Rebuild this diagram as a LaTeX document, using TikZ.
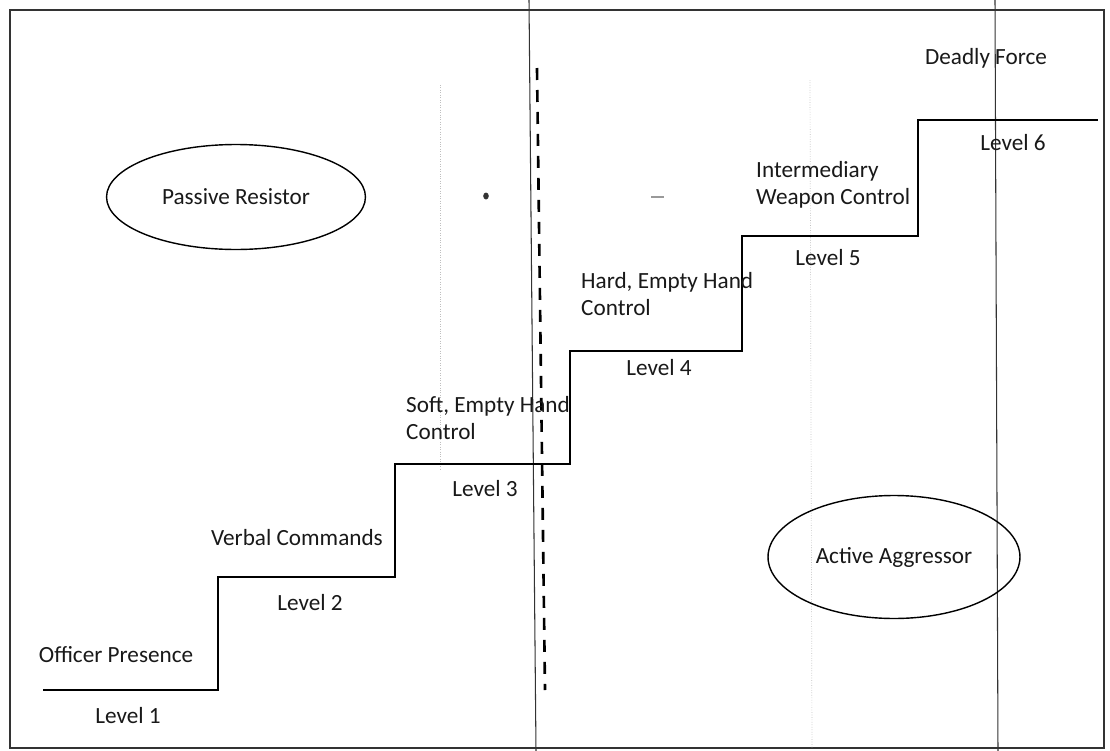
\documentclass[tikz,border=0pt]{standalone}
\usepackage{fontspec}
\setmainfont{Carlito}
\usetikzlibrary{shapes.geometric}

\begin{document}
\begin{tikzpicture}[x=0.02cm, y=-0.02cm,
  every node/.style={font=\fontsize{13.2}{15.4}\selectfont, text=black!90},
  frameline/.style={draw=black!80, line width=0.6pt},
  faintline/.style={draw=black!25, line width=0.4pt, densely dotted},
  stair/.style={draw=black, line width=0.9pt},
  divider/.style={draw=black, line width=1.5pt, dash pattern=on 0.24cm off 0.2cm},
  group/.style={ellipse, draw=black, line width=0.8pt, inner sep=0pt},
  twoline/.style={anchor=west, align=left}]

\useasboundingbox (0,0) rectangle (1110,751);
\fill[white] (0,0) rectangle (1110,751);

% Page frame and fold lines
\draw[frameline] (10,10) rectangle (1104,748);
\draw[frameline] (529,0) -- (536,751);
\draw[frameline] (995,0) -- (998,751);
\draw[faintline] (440,85) -- (440,470);
\draw[faintline] (810,80) -- (812,748);
\fill[black!80] (486,196) ellipse (2.8 and 3.5);
\draw[black!40, line width=1pt] (651,197) -- (664,197);

% Staircase
\coordinate (s0) at (43,690);
\draw[stair] (s0) -- ++(175,0) -- ++(0,-113) -- ++(177,0) -- ++(0,-113)
  -- ++(175,0) -- ++(0,-113) -- ++(172,0) -- ++(0,-115) -- ++(176,0)
  -- ++(0,-116) -- ++(180,0);

% Dashed divider
\coordinate (dtop) at (537,68);
\coordinate (dbot) at (545,690);
\draw[divider] (dtop) -- (dbot);

% Step labels
\node (opres) at (116,655) {Officer Presence};
\node (lv1) at (128,716) {Level 1};
\node (verbal) at (297,538) {Verbal Commands};
\node (lv2) at (310,603) {Level 2};
\node[twoline] (soft) at (400,418) {Soft, Empty Hand\\Control};
\node (lv3) at (485,489) {Level 3};
\node[twoline] (hard) at (575,294) {Hard, Empty Hand\\Control};
\node (lv4) at (659,368) {Level 4};
\node[twoline] (weapon) at (750,185) {Intermediary\\Weapon Control};
\node (lv5) at (828,258) {Level 5};
\node (deadly) at (986,58) {Deadly Force};
\node (lv6) at (1013,143) {Level 6};

% Subjects
\node[group, minimum width=5.18cm, minimum height=2.1cm] (passive) at (236,197) {Passive Resistor};
\node[group, minimum width=5.04cm, minimum height=2.46cm] (active) at (894,557) {Active Aggressor};

\end{tikzpicture}
\end{document}
